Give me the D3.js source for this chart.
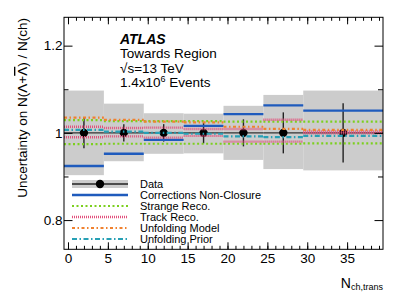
<!DOCTYPE html>
<html>
<head>
<meta charset="utf-8">
<script src="https://cdn.jsdelivr.net/npm/d3@7"></script>
<style>
  body { margin: 0; background: #fff; }
  svg { font-family: "Liberation Sans", Arial, Helvetica, sans-serif; }
</style>
</head>
<body>
<svg width="399" height="299"></svg>
<script>
// bins in N_ch,trans
var binLo = [-0.5, 4.5, 9.5, 14.5, 19.5, 24.5, 29.5];
var binHi = [4.5, 9.5, 14.5, 19.5, 24.5, 29.5, 39.5];
var xCenter = [2, 7, 12, 17, 22, 27, 34.5];

var dataVal = [1, 1, 1, 1, 1, 1, 1];
var dataErr = [0.035, 0.02, 0.02, 0.024, 0.031, 0.047, 0.068];
var totalUp = [0.097, 0.067, 0.045, 0.044, 0.062, 0.087, 0.097];
var totalDown = [0.097, 0.065, 0.048, 0.047, 0.062, 0.083, 0.086];

var nonClosure = [0.924, 0.952, 0.984, 1.016, 1.043, 1.063, 1.051];
var strangeUp = [1.029, 1.027, 1.027, 1.027, 1.026, 1.026, 1.026];
var strangeDown = [0.974, 0.975, 0.975, 0.975, 0.975, 0.975, 0.976];
var trackUp = [1.014, 1.011, 1.012, 1.009, 1.009, 1.03, 1.003];
var trackDown = [0.99, 0.992, 0.989, 0.993, 0.98, 0.98, 0.999];
var unfModel = [1.035, 1.030, 1.026, 1.024, 1.014, 1.009, 1.007];
var unfPrior = [1.007, 1.003, 1.0, 0.998, 0.992, 0.99, 0.993];

var xMajor = [0, 5, 10, 15, 20, 25, 30, 35];
var yMajor = [0.8, 1.0, 1.2];
var yMinor = [0.9, 1.1];
var legendLabels = ["Data", "Corrections Non-Closure", "Strange Reco.", "Track Reco.", "Unfolding Model", "Unfolding Prior"];

var svg = d3.select("svg");
var padL = 64, padR = 383, padT = 17.3, padB = 249.3;

var x = d3.scaleLinear().domain([-0.5, 39.5]).range([padL, padR]);
var y = d3.scaleLinear().domain([0.733, 1.265]).range([padB, padT]);

var bins = binLo.map(function(lo, i) { return i; });

// total uncertainty band
svg.append("g").selectAll("rect")
    .data(bins).enter().append("rect")
    .attr("x", function(i) { return x(binLo[i]); })
    .attr("width", function(i) { return x(binHi[i]) - x(binLo[i]); })
    .attr("y", function(i) { return y(dataVal[i] + totalUp[i]); })
    .attr("height", function(i) { return y(dataVal[i] - totalDown[i]) - y(dataVal[i] + totalUp[i]); })
    .attr("fill", "#cccccc");

// data: horizontal bars, vertical errors, markers
var data = svg.append("g");
data.selectAll("line.h").data(bins).enter().append("line")
    .attr("x1", function(i) { return x(binLo[i]); })
    .attr("x2", function(i) { return x(binHi[i]); })
    .attr("y1", function(i) { return y(dataVal[i]); })
    .attr("y2", function(i) { return y(dataVal[i]); })
    .attr("stroke", "#333").attr("stroke-width", 1.3);
data.selectAll("line.v").data(bins).enter().append("line")
    .attr("x1", function(i) { return x(xCenter[i]); })
    .attr("x2", function(i) { return x(xCenter[i]); })
    .attr("y1", function(i) { return y(dataVal[i] + dataErr[i]); })
    .attr("y2", function(i) { return y(dataVal[i] - dataErr[i]); })
    .attr("stroke", "#222").attr("stroke-width", 1.4);
data.selectAll("circle").data(bins).enter().append("circle")
    .attr("cx", function(i) { return x(xCenter[i]); })
    .attr("cy", function(i) { return y(dataVal[i]); })
    .attr("r", 4.2)
    .attr("fill", "#000");

// systematic variations as step segments
var styles = [
    {vals: [nonClosure], color: "#1f5bbd", width: 2.4, dash: null},
    {vals: [strangeUp, strangeDown], color: "#7ccf1f", width: 2.2, dash: "2,2.5"},
    {vals: [trackUp, trackDown], color: "#e2507c", width: 2.4, dash: "1,1"},
    {vals: [unfModel], color: "#f0812e", width: 2.2, dash: "3,2.5,1.5,2.5"},
    {vals: [unfPrior], color: "#27a0b5", width: 2.2, dash: "5,2.5,1.5,2.5"}
];

styles.forEach(function(s) {
    s.vals.forEach(function(arr) {
        svg.append("g").selectAll("line").data(bins).enter().append("line")
            .attr("x1", function(i) { return x(binLo[i]); })
            .attr("x2", function(i) { return x(binHi[i]); })
            .attr("y1", function(i) { return y(arr[i]); })
            .attr("y2", function(i) { return y(arr[i]); })
            .attr("stroke", s.color)
            .attr("stroke-width", s.width)
            .attr("stroke-dasharray", s.dash);
    });
});

// axes
function styleAxis(g) {
    g.select(".domain").remove();
    g.selectAll("line").attr("stroke", "#000");
    g.selectAll("text").attr("font-size", "13.5px").attr("fill", "#000");
}

svg.append("g").attr("transform", "translate(0," + padB + ")")
    .call(d3.axisBottom(x).tickValues(xMajor).tickSize(-7).tickPadding(4).tickFormat(d3.format("d")))
    .call(styleAxis);
svg.append("g").attr("transform", "translate(0," + padB + ")")
    .call(d3.axisBottom(x).tickValues(d3.range(0, 40)).tickSize(-3.5).tickFormat(""))
    .call(styleAxis);
svg.append("g").attr("transform", "translate(0," + padT + ")")
    .call(d3.axisTop(x).tickValues(xMajor).tickSize(-7).tickFormat(""))
    .call(styleAxis);
svg.append("g").attr("transform", "translate(0," + padT + ")")
    .call(d3.axisTop(x).tickValues(d3.range(0, 40)).tickSize(-3.5).tickFormat(""))
    .call(styleAxis);

svg.append("g").attr("transform", "translate(" + padL + ",0)")
    .call(d3.axisLeft(y).tickValues(yMajor).tickSize(-8.5).tickPadding(1.5)
        .tickFormat(function(d) { return d === 1 ? "1" : d3.format(".1f")(d); }))
    .call(styleAxis);
svg.append("g").attr("transform", "translate(" + padL + ",0)")
    .call(d3.axisLeft(y).tickValues(yMinor).tickSize(-4.5).tickFormat(""))
    .call(styleAxis);
svg.append("g").attr("transform", "translate(" + padR + ",0)")
    .call(d3.axisRight(y).tickValues(yMajor).tickSize(-8.5).tickFormat(""))
    .call(styleAxis);
svg.append("g").attr("transform", "translate(" + padR + ",0)")
    .call(d3.axisRight(y).tickValues(yMinor).tickSize(-5).tickFormat(""))
    .call(styleAxis);

// frame
svg.append("rect")
    .attr("x", padL).attr("y", padT)
    .attr("width", padR - padL).attr("height", padB - padT)
    .attr("fill", "none").attr("stroke", "#000").attr("stroke-width", 1);

// axis titles
var yt = svg.append("text")
    .attr("transform", "translate(27,18) rotate(-90)")
    .attr("text-anchor", "end")
    .attr("font-size", "13.5px");
yt.append("tspan").text("Uncertainty on N(\u039B+");
yt.append("tspan").attr("text-decoration", "overline").text("\u039B");
yt.append("tspan").text(") / N(ch)");

var xt = svg.append("text")
    .attr("x", padR).attr("y", 288)
    .attr("text-anchor", "end")
    .attr("font-size", "14px");
xt.append("tspan").text("N");
xt.append("tspan").attr("font-size", "9px").attr("dy", 2).text("ch,trans");

// labels
svg.append("text").attr("x", 120).attr("y", 43.7)
    .attr("font-size", "14px").attr("font-weight", "bold").attr("font-style", "italic")
    .text("ATLAS");
svg.append("text").attr("x", 120).attr("y", 58.3).attr("font-size", "13.5px").text("Towards Region");
svg.append("text").attr("x", 120).attr("y", 72.7).attr("font-size", "13.5px").text("\u221As=13 TeV");
var ev = svg.append("text").attr("x", 120).attr("y", 87.3).attr("font-size", "13.5px");
ev.append("tspan").text("1.4x10");
ev.append("tspan").attr("font-size", "9px").attr("dy", -5).text("6");
ev.append("tspan").attr("dy", 5).text(" Events");

// legend
var lx0 = 72, lx1 = 128, ly0 = 184, lstep = 11;
var leg = svg.append("g");
leg.append("rect").attr("x", lx0).attr("y", ly0 - 4).attr("width", lx1 - lx0).attr("height", 8).attr("fill", "#cccccc");
leg.append("line").attr("x1", lx0).attr("x2", lx1).attr("y1", ly0).attr("y2", ly0).attr("stroke", "#222").attr("stroke-width", 1.3);
leg.append("circle").attr("cx", (lx0 + lx1) / 2).attr("cy", ly0).attr("r", 4.2).attr("fill", "#000");
styles.forEach(function(s, k) {
    var yy = ly0 + (k + 1) * lstep;
    leg.append("line").attr("x1", lx0).attr("x2", lx1).attr("y1", yy).attr("y2", yy)
        .attr("stroke", s.color).attr("stroke-width", s.width).attr("stroke-dasharray", s.dash);
});
leg.selectAll("text").data(legendLabels).enter().append("text")
    .attr("x", 140)
    .attr("y", function(d, k) { return ly0 + k * lstep + 4; })
    .attr("font-size", "11px")
    .text(function(d) { return d; });
</script>
</body>
</html>
